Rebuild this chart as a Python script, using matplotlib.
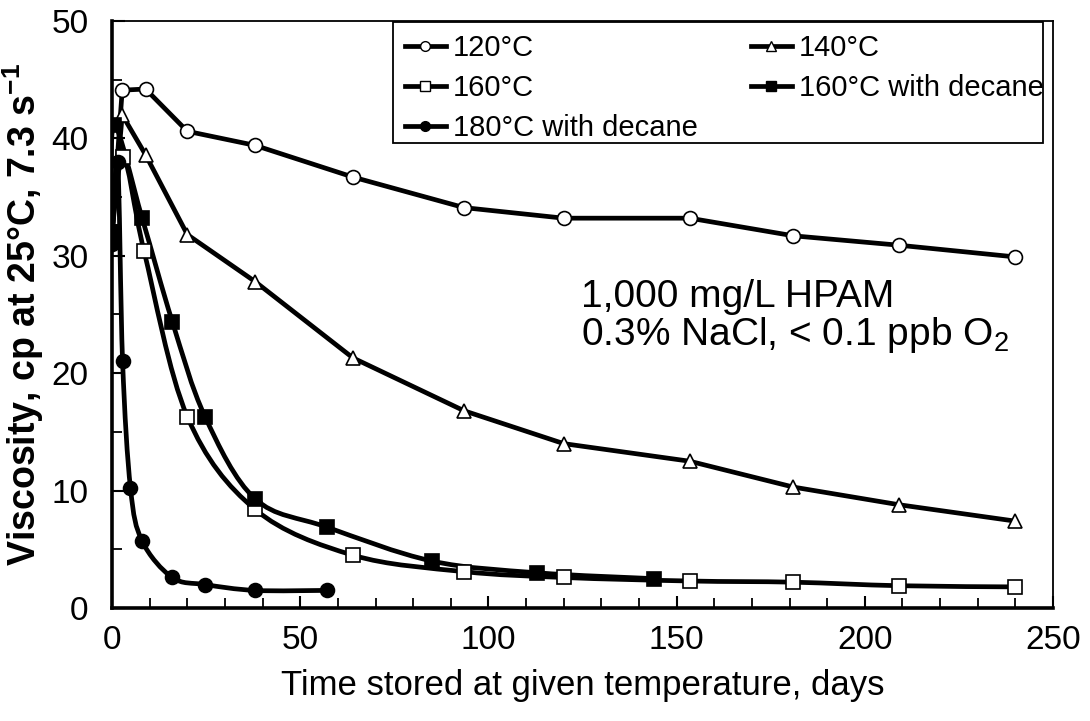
import matplotlib
matplotlib.use("Agg")
import matplotlib.pyplot as plt
from matplotlib.path import Path
from matplotlib.patches import PathPatch, Rectangle
from matplotlib.lines import Line2D
from matplotlib.ticker import MultipleLocator

plt.rcParams['font.family'] = ['Liberation Sans', 'DejaVu Sans']
plt.rcParams['mathtext.fontset'] = 'custom'
plt.rcParams['mathtext.rm'] = 'Liberation Sans'
plt.rcParams['mathtext.bf'] = 'Liberation Sans:bold'

# ---- data ----
days_120 = [0, 2.7, 8.9, 20, 38, 64, 93.5, 120, 153.5, 181, 209, 240]
visc_120 = [32, 44.1, 44.2, 40.6, 39.4, 36.7, 34.1, 33.2, 33.2, 31.7, 30.9, 29.9]

days_140 = [0, 2.7, 8.9, 20, 38, 64, 93.5, 120, 153.5, 181, 209, 240]
visc_140 = [32, 42.0, 38.6, 31.8, 27.8, 21.3, 16.8, 14.0, 12.5, 10.3, 8.8, 7.4]

days_160 = [0, 3.0, 8.5, 20, 38, 64, 93.5, 120, 153.5, 181, 209, 240]
visc_160 = [32, 38.4, 30.4, 16.3, 8.4, 4.5, 3.1, 2.6, 2.3, 2.2, 1.9, 1.8]

days_160d = [0, 0.5, 8, 16, 24.7, 38, 57, 85, 113, 144]
visc_160d = [32, 41.1, 33.2, 24.4, 16.3, 9.3, 6.9, 4.0, 3.0, 2.5]

days_180d = [0, 1.5, 2.8, 4.9, 8, 16, 24.7, 38, 57]
visc_180d = [31.0, 38.0, 21.0, 10.2, 5.7, 2.6, 2.0, 1.5, 1.5]

labels = ['120°C', '140°C', '160°C', '160°C with decane', '180°C with decane']
markers = ['o', '^', 's', 's', 'o']
filled = [False, False, False, True, True]
smoothed = [False, False, True, True, True]

x_ticks = [0, 50, 100, 150, 200, 250]
y_ticks = [0, 10, 20, 30, 40, 50]

series = [(days_120, visc_120), (days_140, visc_140), (days_160, visc_160),
          (days_160d, visc_160d), (days_180d, visc_180d)]


def line_path(xs, ys, smooth):
    pts = list(zip(xs, ys))
    n = len(pts)
    if not smooth:
        return Path(pts)
    verts = [pts[0]]
    codes = [Path.MOVETO]
    for i in range(n - 1):
        p0 = pts[i - 1] if i > 0 else pts[i]
        p1 = pts[i]
        p2 = pts[i + 1]
        p3 = pts[i + 2] if i + 2 < n else pts[i + 1]
        c1 = (p1[0] + (p2[0] - p0[0]) / 6, p1[1] + (p2[1] - p0[1]) / 6)
        c2 = (p2[0] - (p3[0] - p1[0]) / 6, p2[1] - (p3[1] - p1[1]) / 6)
        verts += [c1, c2, p2]
        codes += [Path.CURVE4] * 3
    return Path(verts, codes)


fig = plt.figure(figsize=(10.9, 7.21), dpi=100)
ax = fig.add_axes([0.1028, 0.1567, 0.8633, 0.8143])

LW = 3.4
handles = []
for (xs, ys), lab, mk, fl, sm in zip(series, labels, markers, filled, smoothed):
    patch = PathPatch(line_path(xs, ys, sm), facecolor='none', edgecolor='black',
                      lw=LW, capstyle='round', joinstyle='round', zorder=2)
    ax.add_patch(patch)
    ax.plot(xs, ys, linestyle='none', marker=mk, markersize=10,
            markerfacecolor='black' if fl else 'white',
            markeredgecolor='black', markeredgewidth=1.2, zorder=3)
    handles.append(Line2D([], [], color='black', lw=LW, marker=mk, markersize=7,
                          markerfacecolor='black' if fl else 'white',
                          markeredgecolor='black', markeredgewidth=1.0, label=lab))

ax.set_xlim(0, 250)
ax.set_ylim(0, 50)
ax.set_xticks(x_ticks)
ax.set_yticks(y_ticks)
ax.xaxis.set_minor_locator(MultipleLocator(10))
ax.yaxis.set_minor_locator(MultipleLocator(5))
ax.tick_params(axis='both', which='major', direction='in', length=9, width=1.5,
               labelsize=24, colors='black')
ax.tick_params(axis='both', which='minor', direction='in', length=7, width=1.3)
ax.tick_params(axis='x', which='major', pad=12)
ax.tick_params(axis='y', which='major', pad=17)

ax.spines['left'].set_linewidth(2.6)
ax.spines['bottom'].set_linewidth(2.6)
ax.spines['top'].set_linewidth(1.3)
ax.spines['right'].set_linewidth(1.3)

ax.set_xlabel('Time stored at given temperature, days', fontsize=25)
ax.xaxis.set_label_coords(0.5, -0.104)
ax.set_ylabel('Viscosity, cp at 25°C, 7.3 s$^{\\mathbf{-1}}$', fontsize=27,
              fontweight='bold')
ax.yaxis.set_label_coords(-0.070, 0.5)

# legend frame drawn separately
ax.add_patch(Rectangle((0.2986, 0.7922), 0.6908, 0.2061, transform=ax.transAxes,
                       facecolor='white', edgecolor='black', lw=1.3, zorder=4))
order = [0, 2, 4, 1, 3]
leg = ax.legend([handles[i] for i in order], [labels[i] for i in order],
                ncol=2, loc='upper left', bbox_to_anchor=(0.3114, 0.978),
                fontsize=21, frameon=False,
                handlelength=1.4, handletextpad=0.24, labelspacing=0.42,
                borderaxespad=0, borderpad=0, columnspacing=1.82)
leg.set_zorder(5)

ax.text(0.4983, 0.496, '1,000 mg/L HPAM\n0.3% NaCl, < 0.1 ppb O$_2$',
        transform=ax.transAxes, fontsize=28, ha='left', va='center',
        linespacing=1.0)

fig.savefig('out.png', dpi=100)
